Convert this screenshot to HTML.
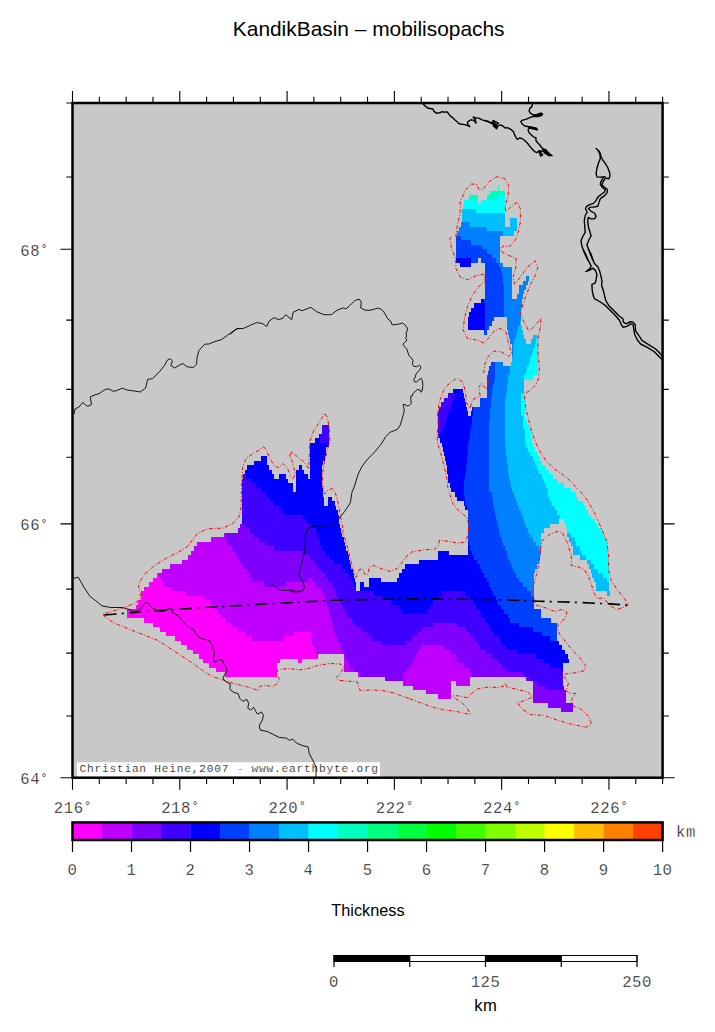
<!DOCTYPE html>
<html><head><meta charset="utf-8"><title>KandikBasin - mobilisopachs</title>
<style>
html,body{margin:0;padding:0;background:#fff}
svg{display:block}
.mono{font-family:"Liberation Mono",monospace;font-size:15.6px;letter-spacing:0.55px;fill:#000;stroke:#fff;stroke-width:0.34px;paint-order:fill stroke}
.sans{font-family:"Liberation Sans",sans-serif;fill:#000}
</style></head><body>
<svg width="715" height="1032" viewBox="0 0 715 1032">
<rect width="715" height="1032" fill="#fff"/>
<text class="sans" x="368.7" y="35.9" font-size="20.9" text-anchor="middle">KandikBasin – mobilisopachs</text>
<rect x="72.5" y="103.0" width="590.1" height="674.7" fill="#c8c8c8"/>
<g shape-rendering="crispEdges">
<path fill="#8000ff" d="M561.00 707.99H573.00V712.49H561.00ZM548.00 703.49H573.00V707.99H548.00ZM533.00 698.99H565.50V703.49H533.00ZM533.00 694.49H565.50V698.99H533.00ZM533.00 689.99H565.50V694.49H533.00ZM533.00 685.50H545.00V689.99H533.00ZM533.00 681.00H537.00V685.50H533.00ZM384.50 676.50H402.50V681.00H384.50ZM526.00 676.50H528.50V681.00H526.00ZM359.50 672.00H402.50V676.50H359.50ZM471.00 672.00H524.00V676.50H471.00ZM353.00 667.50H407.00V672.00H353.00ZM468.50 667.50H506.00V672.00H468.50ZM350.00 663.00H410.50V667.50H350.00ZM463.50 663.00H500.50V667.50H463.50ZM346.50 658.50H413.00V663.00H346.50ZM457.00 658.50H496.50V663.00H457.00ZM344.50 654.00H415.00V658.50H344.50ZM455.00 654.00H491.00V658.50H455.00ZM342.50 649.50H418.00V654.00H342.50ZM449.50 649.50H485.50V654.00H449.50ZM341.00 645.00H421.00V649.50H341.00ZM442.50 645.00H480.00V649.50H442.50ZM339.00 640.50H381.00V645.00H339.00ZM406.00 640.50H477.50V645.00H406.00ZM336.50 636.01H372.00V640.50H336.50ZM412.00 636.01H474.00V640.50H412.00ZM335.00 631.51H366.50V636.01H335.00ZM416.50 631.51H469.50V636.01H416.50ZM333.50 627.01H361.00V631.51H333.50ZM422.00 627.01H466.00V631.51H422.00ZM332.50 622.51H354.50V627.01H332.50ZM432.50 622.51H456.50V627.01H432.50ZM331.50 618.01H351.50V622.51H331.50ZM330.00 613.51H348.00V618.01H330.00ZM329.00 609.01H345.00V613.51H329.00ZM327.50 604.51H343.00V609.01H327.50ZM326.00 600.01H340.50V604.51H326.00ZM324.50 595.51H338.00V600.01H324.50ZM323.00 591.02H336.00V595.51H323.00ZM321.50 586.52H334.50V591.02H321.50ZM263.50 582.02H285.50V586.52H263.50ZM315.50 582.02H331.50V586.52H315.50ZM251.50 577.52H309.00V582.02H251.50ZM311.50 577.52H328.00V582.02H311.50ZM249.50 573.02H324.50V577.52H249.50ZM246.50 568.52H320.50V573.02H246.50ZM243.00 564.02H317.00V568.52H243.00ZM240.00 559.52H313.00V564.02H240.00ZM237.00 555.02H309.50V559.52H237.00ZM234.50 550.52H303.00V555.02H234.50ZM232.00 546.03H274.00V550.52H232.00ZM227.50 541.53H265.50V546.03H227.50ZM225.50 537.03H259.00V541.53H225.50ZM224.50 532.53H254.00V537.03H224.50ZM238.00 528.03H249.50V532.53H238.00ZM239.50 523.53H244.50V528.03H239.50Z"/>
<path fill="#bf00ff" d="M437.50 694.49H451.00V698.99H437.50ZM426.00 689.99H451.00V694.49H426.00ZM412.50 685.50H451.00V689.99H412.50ZM403.00 681.00H451.00V685.50H403.00ZM455.50 681.00H470.00V685.50H455.50ZM402.50 676.50H470.00V681.00H402.50ZM358.00 672.00H359.50V676.50H358.00ZM402.50 672.00H471.00V676.50H402.50ZM344.00 667.50H353.00V672.00H344.00ZM407.00 667.50H468.50V672.00H407.00ZM344.00 663.00H350.00V667.50H344.00ZM410.50 663.00H463.50V667.50H410.50ZM344.00 658.50H346.50V663.00H344.00ZM413.00 658.50H457.00V663.00H413.00ZM317.00 654.00H317.50V658.50H317.00ZM344.00 654.00H344.50V658.50H344.00ZM415.00 654.00H455.00V658.50H415.00ZM315.50 649.50H342.50V654.00H315.50ZM418.00 649.50H449.50V654.00H418.00ZM313.50 645.00H341.00V649.50H313.50ZM421.00 645.00H442.50V649.50H421.00ZM312.00 640.50H339.00V645.00H312.00ZM252.00 636.01H283.50V640.50H252.00ZM311.00 636.01H336.50V640.50H311.00ZM244.50 631.51H294.00V636.01H244.50ZM310.50 631.51H335.00V636.01H310.50ZM237.50 627.01H333.50V631.51H237.50ZM231.00 622.51H332.50V627.01H231.00ZM225.50 618.01H331.50V622.51H225.50ZM221.00 613.51H330.00V618.01H221.00ZM217.00 609.01H329.00V613.51H217.00ZM214.50 604.51H327.50V609.01H214.50ZM210.50 600.01H326.00V604.51H210.50ZM202.50 595.51H324.50V600.01H202.50ZM186.00 591.02H323.00V595.51H186.00ZM170.50 586.52H321.50V591.02H170.50ZM163.50 582.02H263.50V586.52H163.50ZM285.50 582.02H315.50V586.52H285.50ZM160.50 577.52H251.50V582.02H160.50ZM309.00 577.52H311.50V582.02H309.00ZM159.00 573.02H249.50V577.52H159.00ZM161.50 568.52H246.50V573.02H161.50ZM169.50 564.02H243.00V568.52H169.50ZM181.50 559.52H240.00V564.02H181.50ZM187.50 555.02H237.00V559.52H187.50ZM191.00 550.52H234.50V555.02H191.00ZM194.00 546.03H232.00V550.52H194.00ZM197.00 541.53H227.50V546.03H197.00ZM211.00 537.03H225.50V541.53H211.00ZM224.00 532.53H224.50V537.03H224.00Z"/>
<path fill="#4000ff" d="M545.00 685.50H563.50V689.99H545.00ZM537.00 681.00H562.50V685.50H537.00ZM528.50 676.50H562.50V681.00H528.50ZM524.00 672.00H562.50V676.50H524.00ZM506.00 667.50H560.50V672.00H506.00ZM500.50 663.00H550.00V667.50H500.50ZM496.50 658.50H543.00V663.00H496.50ZM491.00 654.00H535.50V658.50H491.00ZM485.50 649.50H517.00V654.00H485.50ZM480.00 645.00H505.50V649.50H480.00ZM381.00 640.50H406.00V645.00H381.00ZM477.50 640.50H501.00V645.00H477.50ZM372.00 636.01H412.00V640.50H372.00ZM474.00 636.01H498.50V640.50H474.00ZM366.50 631.51H416.50V636.01H366.50ZM469.50 631.51H493.50V636.01H469.50ZM361.00 627.01H422.00V631.51H361.00ZM466.00 627.01H490.50V631.51H466.00ZM354.50 622.51H432.50V627.01H354.50ZM456.50 622.51H488.50V627.01H456.50ZM351.50 618.01H485.00V622.51H351.50ZM348.00 613.51H481.00V618.01H348.00ZM345.00 609.01H401.50V613.51H345.00ZM428.00 609.01H480.00V613.51H428.00ZM343.00 604.51H398.50V609.01H343.00ZM430.00 604.51H476.00V609.01H430.00ZM340.50 600.01H390.50V604.51H340.50ZM432.50 600.01H472.50V604.51H432.50ZM338.00 595.51H382.50V600.01H338.00ZM439.00 595.51H468.50V600.01H439.00ZM336.00 591.02H374.00V595.51H336.00ZM442.00 591.02H464.50V595.51H442.00ZM334.50 586.52H356.00V591.02H334.50ZM331.50 582.02H353.50V586.52H331.50ZM328.00 577.52H351.50V582.02H328.00ZM324.50 573.02H348.50V577.52H324.50ZM320.50 568.52H345.00V573.02H320.50ZM317.00 564.02H341.00V568.52H317.00ZM313.00 559.52H334.00V564.02H313.00ZM309.50 555.02H328.50V559.52H309.50ZM303.00 550.52H325.00V555.02H303.00ZM274.00 546.03H322.00V550.52H274.00ZM265.50 541.53H320.00V546.03H265.50ZM259.00 537.03H318.50V541.53H259.00ZM254.00 532.53H316.50V537.03H254.00ZM249.50 528.03H315.50V532.53H249.50ZM244.50 523.53H311.00V528.03H244.50ZM241.50 519.03H307.00V523.53H241.50ZM241.50 514.53H302.50V519.03H241.50ZM241.50 510.03H283.00V514.53H241.50ZM241.50 505.53H278.50V510.03H241.50ZM241.50 501.04H274.00V505.53H241.50ZM241.50 496.54H269.50V501.04H241.50ZM241.50 492.04H265.00V496.54H241.50ZM241.50 487.54H260.50V492.04H241.50ZM241.50 483.04H256.00V487.54H241.50ZM241.50 478.54H251.50V483.04H241.50ZM242.50 474.04H245.50V478.54H242.50ZM319.50 438.05H329.00V442.55H319.50ZM319.50 433.55H329.00V438.05H319.50ZM438.00 433.55H439.00V438.05H438.00ZM321.50 429.05H329.00V433.55H321.50ZM438.00 429.05H441.00V433.55H438.00ZM321.50 424.55H329.00V429.05H321.50ZM438.00 424.55H443.00V429.05H438.00ZM438.00 420.05H444.50V424.55H438.00ZM438.00 415.55H446.50V420.05H438.00ZM438.00 411.06H448.00V415.55H438.00ZM439.00 406.56H450.00V411.06H439.00ZM441.00 402.06H451.50V406.56H441.00ZM443.50 397.56H453.00V402.06H443.50ZM447.50 393.06H454.50V397.56H447.50Z"/>
<path fill="#ff00ff" d="M224.50 672.00H276.50V676.50H224.50ZM216.00 667.50H276.50V672.00H216.00ZM208.50 663.00H276.50V667.50H208.50ZM202.50 658.50H279.50V663.00H202.50ZM298.00 658.50H301.50V663.00H298.00ZM198.50 654.00H317.00V658.50H198.50ZM192.50 649.50H315.50V654.00H192.50ZM186.50 645.00H313.50V649.50H186.50ZM180.50 640.50H312.00V645.00H180.50ZM174.50 636.01H252.00V640.50H174.50ZM283.50 636.01H311.00V640.50H283.50ZM166.00 631.51H244.50V636.01H166.00ZM294.00 631.51H310.50V636.01H294.00ZM160.00 627.01H237.50V631.51H160.00ZM152.50 622.51H231.00V627.01H152.50ZM143.50 618.01H225.50V622.51H143.50ZM126.50 613.51H221.00V618.01H126.50ZM126.50 609.01H217.00V613.51H126.50ZM136.00 604.51H214.50V609.01H136.00ZM138.00 600.01H210.50V604.51H138.00ZM140.50 595.51H202.50V600.01H140.50ZM140.50 591.02H186.00V595.51H140.50ZM143.50 586.52H170.50V591.02H143.50ZM148.50 582.02H163.50V586.52H148.50ZM153.00 577.52H160.50V582.02H153.00ZM157.00 573.02H159.00V577.52H157.00Z"/>
<path fill="#0000ff" d="M560.50 667.50H562.50V672.00H560.50ZM550.00 663.00H562.50V667.50H550.00ZM543.00 658.50H568.50V663.00H543.00ZM535.50 654.00H567.50V658.50H535.50ZM517.00 649.50H564.50V654.00H517.00ZM505.50 645.00H561.50V649.50H505.50ZM501.00 640.50H558.50V645.00H501.00ZM498.50 636.01H549.50V640.50H498.50ZM493.50 631.51H541.50V636.01H493.50ZM490.50 627.01H532.50V631.51H490.50ZM488.50 622.51H519.00V627.01H488.50ZM485.00 618.01H510.00V622.51H485.00ZM481.00 613.51H507.50V618.01H481.00ZM401.50 609.01H428.00V613.51H401.50ZM480.00 609.01H503.50V613.51H480.00ZM398.50 604.51H430.00V609.01H398.50ZM476.00 604.51H501.00V609.01H476.00ZM390.50 600.01H432.50V604.51H390.50ZM472.50 600.01H498.00V604.51H472.50ZM382.50 595.51H439.00V600.01H382.50ZM468.50 595.51H495.50V600.01H468.50ZM374.00 591.02H442.00V595.51H374.00ZM464.50 591.02H493.00V595.51H464.50ZM360.00 586.52H490.50V591.02H360.00ZM353.50 582.02H356.00V586.52H353.50ZM360.00 582.02H363.50V586.52H360.00ZM369.00 582.02H488.50V586.52H369.00ZM351.50 577.52H355.00V582.02H351.50ZM369.00 577.52H381.00V582.02H369.00ZM397.00 577.52H486.50V582.02H397.00ZM348.50 573.02H354.00V577.52H348.50ZM399.00 573.02H484.00V577.52H399.00ZM345.00 568.52H352.50V573.02H345.00ZM402.00 568.52H482.00V573.02H402.00ZM341.00 564.02H351.00V568.52H341.00ZM405.00 564.02H479.50V568.52H405.00ZM334.00 559.52H350.00V564.02H334.00ZM419.00 559.52H476.50V564.02H419.00ZM328.50 555.02H349.00V559.52H328.50ZM438.00 555.02H473.50V559.52H438.00ZM325.00 550.52H348.00V555.02H325.00ZM438.00 550.52H448.50V555.02H438.00ZM467.50 550.52H471.50V555.02H467.50ZM322.00 546.03H346.00V550.52H322.00ZM467.50 546.03H469.50V550.52H467.50ZM320.00 541.53H344.50V546.03H320.00ZM467.50 541.53H468.50V546.03H467.50ZM318.50 537.03H343.50V541.53H318.50ZM316.50 532.53H342.00V537.03H316.50ZM315.50 528.03H341.00V532.53H315.50ZM311.00 523.53H339.50V528.03H311.00ZM307.00 519.03H338.50V523.53H307.00ZM302.50 514.53H338.50V519.03H302.50ZM283.00 510.03H338.00V514.53H283.00ZM278.50 505.53H335.50V510.03H278.50ZM464.50 505.53H466.50V510.03H464.50ZM274.00 501.04H323.50V505.53H274.00ZM328.00 501.04H335.00V505.53H328.00ZM463.50 501.04H464.50V505.53H463.50ZM269.50 496.54H323.50V501.04H269.50ZM328.00 496.54H331.50V501.04H328.00ZM456.50 496.54H464.50V501.04H456.50ZM265.00 492.04H323.00V496.54H265.00ZM455.00 492.04H464.00V496.54H455.00ZM260.50 487.54H293.00V492.04H260.50ZM296.00 487.54H322.50V492.04H296.00ZM451.00 487.54H464.00V492.04H451.00ZM256.00 483.04H292.50V487.54H256.00ZM296.00 483.04H321.50V487.54H296.00ZM449.50 483.04H464.00V487.54H449.50ZM251.50 478.54H288.00V483.04H251.50ZM296.00 478.54H321.50V483.04H296.00ZM448.00 478.54H464.00V483.04H448.00ZM245.50 474.04H274.00V478.54H245.50ZM279.00 474.04H286.00V478.54H279.00ZM296.00 474.04H307.50V478.54H296.00ZM309.50 474.04H321.50V478.54H309.50ZM447.50 474.04H464.50V478.54H447.50ZM244.50 469.54H272.00V474.04H244.50ZM296.00 469.54H304.00V474.04H296.00ZM309.50 469.54H321.50V474.04H309.50ZM447.00 469.54H465.50V474.04H447.00ZM246.50 465.04H269.00V469.54H246.50ZM298.50 465.04H302.00V469.54H298.50ZM309.50 465.04H322.00V469.54H309.50ZM446.50 465.04H466.00V469.54H446.50ZM253.50 460.54H267.00V465.04H253.50ZM309.50 460.54H323.00V465.04H309.50ZM446.00 460.54H466.50V465.04H446.00ZM260.50 456.05H267.00V460.54H260.50ZM309.50 456.05H324.50V460.54H309.50ZM445.00 456.05H467.00V460.54H445.00ZM309.50 451.55H325.50V456.05H309.50ZM443.50 451.55H467.50V456.05H443.50ZM309.50 447.05H326.00V451.55H309.50ZM442.50 447.05H468.00V451.55H442.50ZM309.50 442.55H329.00V447.05H309.50ZM441.50 442.55H468.00V447.05H441.50ZM314.50 438.05H319.50V442.55H314.50ZM439.50 438.05H469.00V442.55H439.50ZM318.50 433.55H319.50V438.05H318.50ZM439.00 433.55H469.50V438.05H439.00ZM441.00 429.05H470.00V433.55H441.00ZM443.00 424.55H471.00V429.05H443.00ZM444.50 420.05H471.50V424.55H444.50ZM446.50 415.55H472.00V420.05H446.50ZM448.00 411.06H468.00V415.55H448.00ZM471.00 411.06H472.50V415.55H471.00ZM450.00 406.56H467.00V411.06H450.00ZM472.00 406.56H473.00V411.06H472.00ZM451.50 402.06H466.00V406.56H451.50ZM453.00 397.56H465.00V402.06H453.00ZM454.50 393.06H464.00V397.56H454.50ZM453.00 388.56H463.00V393.06H453.00ZM467.50 325.57H485.00V330.07H467.50ZM467.50 321.08H485.00V325.57H467.50ZM467.50 316.58H485.00V321.08H467.50ZM469.00 312.08H485.00V316.58H469.00ZM471.00 307.58H485.00V312.08H471.00ZM473.50 303.08H485.00V307.58H473.50ZM480.50 298.58H483.50V303.08H480.50ZM460.00 262.59H470.50V267.09H460.00ZM455.50 258.09H470.50V262.59H455.50Z"/>
<path fill="#0040ff" d="M549.50 636.01H557.00V640.50H549.50ZM541.50 631.51H557.00V636.01H541.50ZM532.50 627.01H557.00V631.51H532.50ZM519.00 622.51H557.00V627.01H519.00ZM510.00 618.01H551.00V622.51H510.00ZM507.50 613.51H541.00V618.01H507.50ZM503.50 609.01H541.00V613.51H503.50ZM501.00 604.51H533.50V609.01H501.00ZM498.00 600.01H533.50V604.51H498.00ZM495.50 595.51H533.50V600.01H495.50ZM493.00 591.02H530.50V595.51H493.00ZM490.50 586.52H526.50V591.02H490.50ZM488.50 582.02H522.50V586.52H488.50ZM486.50 577.52H519.00V582.02H486.50ZM484.00 573.02H516.00V577.52H484.00ZM482.00 568.52H513.50V573.02H482.00ZM479.50 564.02H511.50V568.52H479.50ZM476.50 559.52H510.00V564.02H476.50ZM473.50 555.02H508.00V559.52H473.50ZM471.50 550.52H506.50V555.02H471.50ZM469.50 546.03H504.50V550.52H469.50ZM468.50 541.53H503.00V546.03H468.50ZM467.50 537.03H501.50V541.53H467.50ZM467.50 532.53H500.00V537.03H467.50ZM467.50 528.03H499.00V532.53H467.50ZM467.50 523.53H498.00V528.03H467.50ZM467.50 519.03H496.50V523.53H467.50ZM467.50 514.53H495.50V519.03H467.50ZM467.50 510.03H494.50V514.53H467.50ZM466.50 505.53H494.00V510.03H466.50ZM464.50 501.04H493.00V505.53H464.50ZM464.50 496.54H492.50V501.04H464.50ZM464.00 492.04H491.50V496.54H464.00ZM464.00 487.54H489.00V492.04H464.00ZM464.00 483.04H489.00V487.54H464.00ZM464.00 478.54H489.00V483.04H464.00ZM464.50 474.04H489.00V478.54H464.50ZM465.50 469.54H489.00V474.04H465.50ZM466.00 465.04H489.00V469.54H466.00ZM466.50 460.54H489.00V465.04H466.50ZM467.00 456.05H489.00V460.54H467.00ZM467.50 451.55H489.00V456.05H467.50ZM468.00 447.05H489.00V451.55H468.00ZM468.00 442.55H489.00V447.05H468.00ZM469.00 438.05H489.00V442.55H469.00ZM469.50 433.55H489.00V438.05H469.50ZM470.00 429.05H489.00V433.55H470.00ZM471.00 424.55H489.00V429.05H471.00ZM471.50 420.05H489.00V424.55H471.50ZM472.00 415.55H489.50V420.05H472.00ZM472.50 411.06H489.50V415.55H472.50ZM473.00 406.56H490.00V411.06H473.00ZM480.00 402.06H490.50V406.56H480.00ZM480.00 397.56H491.00V402.06H480.00ZM486.50 393.06H491.50V397.56H486.50ZM486.50 388.56H492.00V393.06H486.50ZM486.50 384.06H493.00V388.56H486.50ZM486.50 379.56H494.00V384.06H486.50ZM486.50 375.06H495.00V379.56H486.50ZM487.50 370.56H495.00V375.06H487.50ZM489.00 366.07H495.00V370.56H489.00ZM491.00 361.57H495.00V366.07H491.00ZM483.50 330.07H486.50V334.57H483.50ZM485.00 325.57H488.50V330.07H485.00ZM485.00 321.08H492.00V325.57H485.00ZM485.00 316.58H493.50V321.08H485.00ZM485.00 312.08H504.00V316.58H485.00ZM485.00 307.58H504.00V312.08H485.00ZM485.00 303.08H504.00V307.58H485.00ZM483.50 298.58H504.00V303.08H483.50ZM484.50 294.08H504.00V298.58H484.50ZM485.00 289.58H504.00V294.08H485.00ZM485.00 285.08H504.00V289.58H485.00ZM485.00 280.58H503.00V285.08H485.00ZM485.00 276.09H502.50V280.58H485.00ZM485.00 271.59H501.50V276.09H485.00ZM485.00 267.09H501.00V271.59H485.00ZM485.00 262.59H499.00V267.09H485.00ZM470.50 258.09H478.00V262.59H470.50ZM480.50 258.09H496.00V262.59H480.50ZM455.50 253.59H492.00V258.09H455.50ZM455.50 249.09H486.50V253.59H455.50ZM455.50 244.59H482.00V249.09H455.50ZM455.50 240.09H471.00V244.59H455.50ZM455.50 235.59H460.50V240.09H455.50Z"/>
<path fill="#0080ff" d="M530.50 591.02H533.50V595.51H530.50ZM526.50 586.52H533.50V591.02H526.50ZM522.50 582.02H533.50V586.52H522.50ZM519.00 577.52H533.50V582.02H519.00ZM516.00 573.02H533.50V577.52H516.00ZM513.50 568.52H534.50V573.02H513.50ZM511.50 564.02H536.50V568.52H511.50ZM510.00 559.52H538.50V564.02H510.00ZM508.00 555.02H540.00V559.52H508.00ZM506.50 550.52H540.50V555.02H506.50ZM504.50 546.03H539.00V550.52H504.50ZM503.00 541.53H535.50V546.03H503.00ZM501.50 537.03H532.50V541.53H501.50ZM500.00 532.53H530.00V537.03H500.00ZM499.00 528.03H528.00V532.53H499.00ZM498.00 523.53H525.50V528.03H498.00ZM496.50 519.03H524.00V523.53H496.50ZM495.50 514.53H522.50V519.03H495.50ZM494.50 510.03H520.50V514.53H494.50ZM494.00 505.53H519.00V510.03H494.00ZM493.00 501.04H517.00V505.53H493.00ZM492.50 496.54H515.50V501.04H492.50ZM491.50 492.04H514.00V496.54H491.50ZM489.00 487.54H511.50V492.04H489.00ZM489.00 483.04H510.50V487.54H489.00ZM489.00 478.54H509.50V483.04H489.00ZM489.00 474.04H508.50V478.54H489.00ZM489.00 469.54H508.00V474.04H489.00ZM489.00 465.04H507.50V469.54H489.00ZM489.00 460.54H507.00V465.04H489.00ZM489.00 456.05H506.50V460.54H489.00ZM489.00 451.55H506.00V456.05H489.00ZM489.00 447.05H505.50V451.55H489.00ZM489.00 442.55H505.00V447.05H489.00ZM489.00 438.05H505.00V442.55H489.00ZM489.00 433.55H505.00V438.05H489.00ZM489.00 429.05H505.00V433.55H489.00ZM489.00 424.55H505.00V429.05H489.00ZM489.00 420.05H505.00V424.55H489.00ZM489.50 415.55H505.00V420.05H489.50ZM489.50 411.06H505.00V415.55H489.50ZM490.00 406.56H505.00V411.06H490.00ZM490.50 402.06H505.00V406.56H490.50ZM491.00 397.56H505.00V402.06H491.00ZM491.50 393.06H506.00V397.56H491.50ZM492.00 388.56H506.50V393.06H492.00ZM493.00 384.06H507.00V388.56H493.00ZM494.00 379.56H507.50V384.06H494.00ZM495.00 375.06H508.00V379.56H495.00ZM495.00 370.56H510.00V375.06H495.00ZM495.00 366.07H510.00V370.56H495.00ZM495.00 361.57H503.00V366.07H495.00ZM512.00 352.57H512.50V357.07H512.00ZM512.00 348.07H512.50V352.57H512.00ZM511.50 343.57H513.00V348.07H511.50ZM510.00 339.07H514.00V343.57H510.00ZM508.50 334.57H515.50V339.07H508.50ZM507.50 330.07H516.50V334.57H507.50ZM507.00 325.57H518.00V330.07H507.00ZM507.00 321.08H519.50V325.57H507.00ZM507.00 316.58H520.50V321.08H507.00ZM504.00 312.08H520.50V316.58H504.00ZM504.00 307.58H520.50V312.08H504.00ZM504.00 303.08H521.50V307.58H504.00ZM504.00 298.58H522.00V303.08H504.00ZM504.00 294.08H511.50V298.58H504.00ZM517.00 294.08H523.00V298.58H517.00ZM504.00 289.58H511.50V294.08H504.00ZM519.00 289.58H524.00V294.08H519.00ZM504.00 285.08H511.50V289.58H504.00ZM519.00 285.08H526.00V289.58H519.00ZM503.00 280.58H511.50V285.08H503.00ZM523.00 280.58H527.50V285.08H523.00ZM502.50 276.09H511.50V280.58H502.50ZM525.50 276.09H528.50V280.58H525.50ZM501.50 271.59H511.50V276.09H501.50ZM501.00 267.09H511.50V271.59H501.00ZM499.00 262.59H503.00V267.09H499.00ZM496.00 258.09H500.00V262.59H496.00ZM492.00 253.59H500.00V258.09H492.00ZM486.50 249.09H500.00V253.59H486.50ZM482.00 244.59H500.00V249.09H482.00ZM471.00 240.09H500.00V244.59H471.00ZM460.50 235.59H500.00V240.09H460.50ZM456.50 231.10H502.50V235.59H456.50ZM458.50 226.60H486.50V231.10H458.50ZM460.50 222.10H470.00V226.60H460.50Z"/>
<path fill="#00bfff" d="M607.00 591.02H610.00V595.51H607.00ZM595.50 586.52H608.50V591.02H595.50ZM595.50 582.02H608.50V586.52H595.50ZM593.50 577.52H607.00V582.02H593.50ZM591.50 573.02H602.50V577.52H591.50ZM591.00 568.52H597.50V573.02H591.00ZM588.50 564.02H593.50V568.52H588.50ZM587.00 559.52H591.00V564.02H587.00ZM579.50 555.02H586.00V559.52H579.50ZM572.50 550.52H582.00V555.02H572.50ZM539.00 546.03H541.00V550.52H539.00ZM572.50 546.03H579.50V550.52H572.50ZM535.50 541.53H541.00V546.03H535.50ZM571.00 541.53H576.00V546.03H571.00ZM532.50 537.03H541.00V541.53H532.50ZM569.00 537.03H574.50V541.53H569.00ZM530.00 532.53H541.00V537.03H530.00ZM567.00 532.53H570.50V537.03H567.00ZM528.00 528.03H543.50V532.53H528.00ZM525.50 523.53H550.00V528.03H525.50ZM524.00 519.03H558.50V523.53H524.00ZM522.50 514.53H559.50V519.03H522.50ZM520.50 510.03H557.00V514.53H520.50ZM519.00 505.53H554.50V510.03H519.00ZM517.00 501.04H552.00V505.53H517.00ZM515.50 496.54H550.00V501.04H515.50ZM514.00 492.04H548.00V496.54H514.00ZM511.50 487.54H547.50V492.04H511.50ZM510.50 483.04H545.50V487.54H510.50ZM509.50 478.54H543.50V483.04H509.50ZM508.50 474.04H541.50V478.54H508.50ZM508.00 469.54H538.50V474.04H508.00ZM507.50 465.04H536.50V469.54H507.50ZM507.00 460.54H534.50V465.04H507.00ZM506.50 456.05H532.50V460.54H506.50ZM506.00 451.55H529.50V456.05H506.00ZM505.50 447.05H527.50V451.55H505.50ZM505.00 442.55H526.00V447.05H505.00ZM505.00 438.05H525.00V442.55H505.00ZM505.00 433.55H524.50V438.05H505.00ZM505.00 429.05H524.50V433.55H505.00ZM505.00 424.55H522.50V429.05H505.00ZM505.00 420.05H522.50V424.55H505.00ZM505.00 415.55H522.50V420.05H505.00ZM505.00 411.06H521.00V415.55H505.00ZM505.00 406.56H521.00V411.06H505.00ZM505.00 402.06H521.00V406.56H505.00ZM505.00 397.56H521.00V402.06H505.00ZM506.00 393.06H521.00V397.56H506.00ZM506.50 388.56H524.00V393.06H506.50ZM507.00 384.06H524.00V388.56H507.00ZM507.50 379.56H524.00V384.06H507.50ZM508.00 375.06H524.00V379.56H508.00ZM510.00 370.56H526.00V375.06H510.00ZM510.00 366.07H527.00V370.56H510.00ZM510.50 361.57H528.50V366.07H510.50ZM511.50 357.07H530.00V361.57H511.50ZM512.50 352.57H531.50V357.07H512.50ZM512.50 348.07H533.00V352.57H512.50ZM513.00 343.57H534.50V348.07H513.00ZM514.00 339.07H525.50V343.57H514.00ZM531.00 339.07H536.00V343.57H531.00ZM515.50 334.57H524.00V339.07H515.50ZM533.00 334.57H537.00V339.07H533.00ZM516.50 330.07H522.50V334.57H516.50ZM518.00 325.57H522.00V330.07H518.00ZM519.50 321.08H521.00V325.57H519.50ZM502.50 231.10H514.00V235.59H502.50ZM486.50 226.60H516.50V231.10H486.50ZM470.00 222.10H505.00V226.60H470.00ZM510.00 222.10H517.00V226.60H510.00ZM461.50 217.60H505.00V222.10H461.50ZM510.00 217.60H517.00V222.10H510.00ZM461.50 213.10H505.00V217.60H461.50ZM461.50 208.60H476.00V213.10H461.50Z"/>
<path fill="#00ffff" d="M607.00 577.52H608.50V582.02H607.00ZM602.50 573.02H608.50V577.52H602.50ZM597.50 568.52H608.50V573.02H597.50ZM593.50 564.02H608.50V568.52H593.50ZM591.00 559.52H608.50V564.02H591.00ZM586.00 555.02H608.00V559.52H586.00ZM582.00 550.52H608.00V555.02H582.00ZM579.50 546.03H607.50V550.52H579.50ZM576.00 541.53H606.50V546.03H576.00ZM574.50 537.03H605.50V541.53H574.50ZM570.50 532.53H604.00V537.03H570.50ZM567.00 528.03H601.50V532.53H567.00ZM565.50 523.53H598.00V528.03H565.50ZM563.50 519.03H594.50V523.53H563.50ZM559.50 514.53H590.50V519.03H559.50ZM557.00 510.03H587.50V514.53H557.00ZM554.50 505.53H585.50V510.03H554.50ZM552.00 501.04H582.50V505.53H552.00ZM550.00 496.54H578.00V501.04H550.00ZM548.00 492.04H575.50V496.54H548.00ZM547.50 487.54H570.50V492.04H547.50ZM545.50 483.04H564.00V487.54H545.50ZM543.50 478.54H558.00V483.04H543.50ZM541.50 474.04H553.00V478.54H541.50ZM538.50 469.54H548.50V474.04H538.50ZM536.50 465.04H546.00V469.54H536.50ZM534.50 460.54H542.00V465.04H534.50ZM532.50 456.05H539.50V460.54H532.50ZM529.50 451.55H537.50V456.05H529.50ZM527.50 447.05H534.50V451.55H527.50ZM526.00 442.55H533.00V447.05H526.00ZM525.00 438.05H532.00V442.55H525.00ZM524.50 433.55H531.00V438.05H524.50ZM524.50 429.05H530.50V433.55H524.50ZM522.50 424.55H528.50V429.05H522.50ZM522.50 420.05H527.00V424.55H522.50ZM522.50 415.55H525.00V420.05H522.50ZM521.00 411.06H524.50V415.55H521.00ZM521.00 406.56H524.50V411.06H521.00ZM521.00 402.06H524.50V406.56H521.00ZM521.00 397.56H524.50V402.06H521.00ZM521.00 393.06H524.00V397.56H521.00ZM524.00 375.06H533.00V379.56H524.00ZM526.00 370.56H537.50V375.06H526.00ZM527.00 366.07H538.00V370.56H527.00ZM528.50 361.57H538.00V366.07H528.50ZM530.00 357.07H538.00V361.57H530.00ZM531.50 352.57H538.00V357.07H531.50ZM533.00 348.07H537.50V352.57H533.00ZM534.50 343.57H537.50V348.07H534.50ZM536.00 339.07H537.50V343.57H536.00ZM537.00 334.57H537.50V339.07H537.00ZM476.00 208.60H505.00V213.10H476.00ZM462.50 204.10H505.00V208.60H462.50ZM464.00 199.60H478.00V204.10H464.00ZM480.50 199.60H505.00V204.10H480.50ZM498.00 195.10H505.00V199.60H498.00Z"/>
<path fill="#00ffbf" d="M469.00 195.10H478.00V199.60H469.00ZM486.50 195.10H498.00V199.60H486.50ZM489.50 190.60H505.00V195.10H489.50ZM497.50 186.11H499.00V190.60H497.50Z"/>
</g>
<svg x="72.5" y="103.0" width="590.1" height="674.7" viewBox="72.5 103.0 590.1 674.7">
<rect x="77" y="762.3" width="303" height="14.5" fill="#fff"/>
<text class="mono" x="79.5" y="772" style="font-size:11.2px;letter-spacing:0.77px;stroke-width:0.22px;fill:#000">Christian Heine,2007 - www.earthbyte.org</text>
<defs><clipPath id="cH"><rect x="400" y="140" width="240" height="97.5"/></clipPath><clipPath id="cG"><rect x="400" y="236.5" width="240" height="138.5"/></clipPath><clipPath id="cI"><rect x="420" y="375" width="210" height="115"/></clipPath><clipPath id="cJ"><rect x="410" y="490" width="202" height="135"/></clipPath><clipPath id="cA"><rect x="290" y="400" width="130" height="130"/></clipPath><clipPath id="cK"><rect x="120" y="420" width="170" height="125"/></clipPath><clipPath id="cB"><rect x="90" y="545" width="200" height="80"/><rect x="90" y="625" width="110" height="45"/></clipPath><clipPath id="cC"><rect x="290" y="530" width="120" height="95"/></clipPath><clipPath id="cF"><rect x="200" y="625" width="210" height="145"/></clipPath><clipPath id="cE"><rect x="410" y="625" width="210" height="145"/></clipPath><clipPath id="cD"><rect x="410" y="490" width="270" height="135"/><rect x="612" y="520" width="68" height="150"/></clipPath></defs>
<g fill="none" stroke="#ff0000" stroke-width="1" stroke-dasharray="3.6 1.8 0.9 1.8">
<polyline clip-path="url(#cA)" points="230.0,523.3 235.9,517.5 240.3,513.1 241.7,502.8 242.3,488.1 242.3,470.5 244.7,461.7 253.5,454.3 264.7,446.4 268.2,454.3 272.6,463.1 275.5,468.1 281.4,462.3 285.8,469.0 290.2,476.4 293.1,479.3 295.2,473.4 293.1,464.6 290.2,455.8 291.7,451.4 296.1,455.8 300.5,458.7 304.9,463.1 308.7,469.0 309.3,455.8 309.9,441.1 313.7,430.8 319.6,422.0 324.6,413.2 327.5,417.6 329.3,429.4 329.9,441.1 326.9,451.4 324.6,461.7 322.5,473.4 322.5,485.2 324.6,494.0 328.4,489.6 332.8,488.7 335.7,494.0 338.1,502.8 340.1,514.5 343.1,529.2 346.0,539.5 348.1,550.1"/>
<polyline clip-path="url(#cB)" points="236.8,521.5 228.0,526.5 216.3,528.2 204.5,530.3 195.7,536.2 189.9,545.0 178.1,552.3 166.4,558.2 154.6,565.5 145.8,572.9 140.5,580.2 138.5,586.1 140.5,593.4 139.9,599.3 134.1,603.7 122.3,608.1 102.3,614.6 113.5,622.8 128.2,628.7 142.9,634.5 157.5,640.4 169.3,647.8 178.1,653.6 186.9,659.5 195.7,665.4 201.6,670.1 213.3,678.6"/>
<polyline clip-path="url(#cK)" points="150.8,570.1 164.1,559.5 178.7,553.6 187.5,546.3 197.8,533.1 208.1,528.7 222.8,528.1 233.1,523.4 238.9,516.9 241.0,508.1 241.3,493.4 241.9,478.7 242.8,467.0 246.3,458.2 255.1,452.3 263.9,447.0 266.8,450.8 269.8,458.2 274.2,465.5 278.6,467.6 283.0,463.5 287.4,468.5 291.8,477.3 295.6,481.7 295.6,471.4 291.8,462.6 289.8,455.2 291.8,451.7 296.2,456.7 302.1,458.2 306.5,462.6 309.4,468.5 310.3,455.2 310.9,443.5 312.4,436.2 316.8,428.8 322.6,421.5 325.6,420.0"/>
<polyline clip-path="url(#cC)" points="340.5,521.5 342.9,531.7 347.3,546.4 350.2,558.2 353.1,569.9 356.1,577.3 359.0,569.9 362.0,568.5 364.9,574.3 367.8,574.3 369.3,567.0 373.7,565.5 381.0,568.5 389.9,571.4 397.2,568.5 403.1,561.1 407.5,555.2 413.3,551.7 425.1,548.8 435.4,549.4 438.3,543.5 441.2,540.0 448.6,541.1 457.4,544.1 464.7,542.9 467.7,537.6 468.6,528.8 467.7,520.0"/>
<polyline clip-path="url(#cD)" points="540.5,549.4 542.0,540.6 549.3,534.7 558.1,531.2 562.5,533.2 566.9,542.0 571.3,555.2 571.3,565.5 578.7,567.0 584.5,569.9 588.9,577.3 591.9,586.1 594.8,594.9 597.8,598.7 603.6,597.8 609.5,605.2 616.8,609.6 625.7,606.6 628.6,604.6 622.7,596.4 616.8,589.0 611.0,580.2 608.6,569.9 608.6,555.2 606.6,540.6 602.2,530.3 597.8,520.0"/>
<polyline clip-path="url(#cD)" points="540.5,549.4 539.0,564.1 536.1,575.8 533.1,586.1 533.1,596.4 536.1,605.2 546.4,608.1 555.2,611.6 561.0,609.6 566.9,611.6 565.4,618.4 558.1,624.3 556.6,633.1 559.6,640.4 566.9,649.2 574.3,658.0 581.6,665.4 586.0,670.1"/>
<polyline clip-path="url(#cE)" points="410.0,698.7 418.8,702.2 430.6,706.6 442.3,709.6 457.0,711.6 467.3,714.0 470.2,714.0 467.3,708.1 461.4,702.2 452.6,696.9 449.6,695.8 458.5,695.8 467.3,697.8 471.7,693.4 477.5,689.0 487.8,687.0 498.1,687.5 504.0,686.1 505.4,683.1 506.9,687.0 515.7,689.0 527.5,692.0 532.8,696.9 526.0,699.9 517.2,703.1 523.1,709.6 530.4,714.6 543.6,715.4 556.8,719.9 571.5,724.3 586.2,727.2 591.5,724.3 589.1,716.9 581.8,709.6 573.0,705.8 571.5,699.3 575.9,693.4 570.1,693.4 565.7,690.5 568.6,683.1 562.7,674.3 574.5,672.9 584.7,670.5 585.6,665.5 580.3,658.2 573.0,650.8 565.7,642.0 559.8,634.7 556.8,627.3 562.7,620.0 565.7,615.6"/>
<polyline clip-path="url(#cF)" points="194.1,664.1 200.0,668.5 205.9,672.9 214.7,677.3 223.5,680.2 232.3,683.1 244.1,686.1 254.3,689.0 257.3,690.5 260.2,686.1 266.1,685.2 272.0,687.0 277.8,683.1 279.3,678.7 276.4,674.3 277.8,669.9 288.1,668.5 299.9,669.9 308.7,668.5 317.5,665.5 329.2,663.5 341.0,664.1 343.9,667.0 341.0,672.9 336.6,677.3 338.0,680.2 346.8,681.1 357.1,681.7 358.6,686.1 360.1,690.5 370.3,689.9 382.1,690.5 393.8,692.8 402.6,696.4 410.0,698.7"/>
<polyline clip-path="url(#cG)" points="455.8,230.0 449.9,238.8 451.4,247.6 455.8,259.4 455.8,268.2 460.2,277.0 467.5,279.9 476.4,275.5 483.7,274.1 485.2,281.4 477.8,287.3 472.0,296.1 467.5,306.4 464.6,318.1 463.1,329.9 467.5,338.7 477.8,340.1 483.7,343.1 488.1,338.7 494.0,331.3 499.9,328.4 505.7,331.3 508.1,341.6 511.6,353.3 508.7,356.3 501.3,351.9 494.0,351.0 488.1,356.3 485.2,363.6 483.7,372.4 485.2,380.1"/>
<polyline clip-path="url(#cG)" points="516.0,230.0 516.0,238.8 510.1,246.2 502.8,246.2 499.9,250.6 507.2,255.0 516.0,257.9 516.0,266.7 513.1,277.0 514.5,284.3 520.4,277.0 527.8,266.7 535.1,260.8 538.0,266.7 535.1,275.5 530.7,284.3 526.3,294.6 523.3,303.4 520.4,313.7 524.8,324.0 529.2,331.3 535.1,325.4 541.0,318.1 540.4,326.9 538.0,338.7 538.0,353.3 539.5,368.0 538.0,380.1"/>
<polyline clip-path="url(#cH)" points="455.8,236.9 457.3,225.2 460.2,213.4 460.2,201.7 464.6,191.4 470.5,184.1 476.4,184.1 479.3,189.9 483.7,188.5 489.6,181.1 496.9,176.7 504.3,178.2 508.7,185.5 508.1,195.8 505.1,206.1 505.7,212.0 513.1,204.6 517.5,202.3 520.4,209.0 520.4,222.2 516.9,236.9"/>
<polyline clip-path="url(#cI)" points="468.5,520.1 464.1,515.4 456.7,512.4 450.8,499.2 447.9,487.5 446.4,475.7 443.5,464.0 440.6,452.2 437.6,443.4 437.0,434.6 438.2,425.8 437.6,414.1 439.1,402.3 443.5,390.6 449.4,383.2 456.7,378.2 462.6,381.7 465.5,392.0 467.0,403.8 469.9,408.2 472.9,399.4 475.8,397.9 480.2,395.8 478.7,387.6 481.7,383.2 486.1,389.1 489.0,381.7 487.0,372.9 485.2,370.0"/>
<polyline clip-path="url(#cI)" points="538.9,370.0 538.9,377.3 536.0,384.7 530.1,390.6 524.3,393.5 525.7,408.2 528.7,419.9 531.6,431.7 536.0,443.4 540.4,452.2 546.3,461.0 553.6,468.4 562.4,474.3 571.2,481.6 578.6,490.4 585.9,500.7 591.8,511.0 596.2,518.3 597.7,520.1"/>
<polyline clip-path="url(#cJ)" points="400.0,565.2 404.4,557.8 411.7,552.0 423.5,549.9 435.2,549.0 438.2,546.1 439.6,540.2 447.0,541.1 458.7,543.1 466.1,541.7 468.1,532.9 469.0,524.1 466.1,516.7 458.7,510.8 452.9,503.5 449.9,494.7 447.6,482.9 447.0,480.0"/>
<polyline clip-path="url(#cJ)" points="568.9,480.0 577.4,488.2 583.0,494.4 587.1,500.0 591.2,507.0 594.7,513.5 597.4,519.6"/>
</g>
<g fill="none" stroke="#000" stroke-width="0.9" stroke-linejoin="round">
<polyline points="73.8,414.6 75.1,408.8 78.9,407.1 82.7,402.5 85.2,404.6 87.7,406.3 91.5,404.6 90.2,397.0 94.0,395.2 99.0,393.7 101.5,392.0 105.3,389.4 109.1,388.9 112.9,391.2 116.6,390.7 122.2,388.2 126.7,389.9 135.5,391.2 140.1,392.0 145.6,388.2 147.6,379.4 152.6,378.6 159.4,371.8 164.5,365.5 167.0,360.5 170.0,358.7 172.5,361.0 170.8,365.5 174.6,368.0 179.6,365.0 182.9,363.5 187.1,366.8 193.4,367.5 196.5,364.3 197.2,356.7 199.0,350.4 204.8,344.1 208.5,344.1 216.1,341.1 221.1,339.8 227.4,335.3 236.2,329.0 240.0,328.3"/>
<polyline points="230.0,334.3 237.3,328.5 243.2,328.5 256.4,322.6 262.3,323.5 266.7,326.4 269.1,321.1 274.1,317.6 278.5,319.6 282.9,318.2 285.8,314.7 291.7,319.6 293.1,312.3 299.0,309.4 302.0,310.8 310.8,307.3 316.6,311.7 324.0,314.7 331.3,314.7 337.2,310.2 343.1,307.9 346.0,308.8 350.4,305.0 354.8,300.6 359.2,299.1 361.3,302.0 360.7,307.9 365.1,310.2 370.1,310.2"/>
<polyline points="370.0,310.3 374.1,309.2 378.1,308.0 381.0,309.2 384.0,312.1 386.3,316.2 388.0,319.1 390.9,321.4 392.1,324.9 395.0,324.7 399.1,324.0 402.6,323.1 404.9,324.9 407.2,327.8 407.4,330.1 406.0,333.0 406.6,335.9 405.5,338.3 407.0,340.0 404.9,342.3 403.1,344.1 404.3,346.4 406.6,348.7 407.8,352.2 409.0,355.7 411.3,358.0 413.0,360.3 412.4,363.8 413.6,366.2 416.5,366.7 419.4,365.3 420.9,366.7 420.0,369.7 417.7,372.0 415.9,374.3 415.3,377.2 413.6,379.8 414.8,381.9 416.5,381.9 419.4,379.5 421.2,378.4 422.3,380.7 422.9,385.3 422.3,390.0 421.2,392.3 420.0,390.0 417.7,389.4 415.3,391.2 413.0,393.5 412.4,395.8 410.7,396.4 410.9,399.9 411.3,403.4 409.5,405.3 407.2,406.0 404.9,404.5 403.1,404.5 403.7,407.4 404.3,410.0 403.3,414.7"/>
<polyline points="403.3,414.7 400.3,425.0 397.4,429.4 390.1,432.3 385.7,436.7 381.2,444.1 373.9,452.9 368.0,458.7 362.2,466.1 357.8,474.9 354.8,485.2 351.9,492.5 350.4,502.8 344.5,511.6 338.7,518.9 334.3,524.8"/>
<polyline points="334.1,525.3 325.2,525.9 313.5,525.9 307.6,528.8 305.3,534.7 305.3,546.4 303.2,558.2 300.3,568.5 298.8,574.3 301.7,580.2 304.7,586.1 303.2,590.5 297.3,592.0 290.0,591.4"/>
<polyline points="270.6,584.6 275.0,586.1 279.4,589.9 285.3,590.5 291.2,589.9 295.6,591.4 300.0,591.1"/>
<polyline points="71.8,578.7 78.3,577.3 84.1,587.5 90.0,596.4 95.9,600.8 101.7,605.8 110.6,607.5 122.3,607.5 129.6,609.6 134.1,611.6 139.9,609.6 142.9,605.2 145.8,602.2 148.7,603.7 152.3,608.1 159.0,611.0 163.4,611.0 170.8,608.1 172.2,612.5 178.1,615.4 182.5,621.3 188.4,627.2"/>
<polyline points="190.0,627.9 193.9,629.9 196.9,635.8 201.7,638.7 206.6,639.7 210.6,641.6 212.5,646.5 214.5,652.4 213.5,658.3 214.5,662.2 218.4,660.2 222.3,659.9 223.7,664.2 226.2,667.1 227.2,671.0 224.3,674.9 222.9,678.8 226.2,681.8 230.1,683.7 230.1,689.6 234.1,692.6 238.0,693.5 239.9,698.4 242.9,701.4 246.8,699.4 248.7,703.3 247.8,708.2 250.7,710.2 253.6,707.2 255.6,711.2 257.6,714.1 261.5,712.1 263.4,715.1 262.4,720.0 259.5,724.9 259.5,728.8 261.5,730.0"/>
<polyline points="260.2,730.1 267.5,731.6 273.4,734.5 279.3,737.5 286.6,738.1 289.6,740.4 292.5,738.9 296.9,743.3 302.8,745.7 308.1,746.9 309.3,753.6 313.1,761.0 316.0,766.8 316.0,778.6"/>
</g>
<g fill="none" stroke="#000" stroke-width="1.4" stroke-linejoin="round" stroke-linecap="round">
<polyline points="422.8,103.6 425.6,106.4 428.4,108.3 432.9,109.0 434.0,111.4 436.8,113.4 440.2,112.5 443.0,111.6 444.6,112.3 446.9,111.6 448.6,113.7 450.2,115.9 452.5,117.6 454.7,119.8 456.9,121.5 459.2,123.7 462.0,124.3 464.8,124.6 467.0,125.4 469.8,126.5 467.6,124.3 467.6,122.0 469.8,120.4 472.0,119.8 474.3,120.9 476.0,123.2 475.4,119.8 473.2,117.0 476.0,118.1 478.8,118.1 482.1,119.8 485.5,120.9 488.8,122.0 492.2,123.2 495.0,123.7"/>
<polyline points="485.0,120.4 488.4,121.5 491.7,123.7 493.4,120.4 495.6,122.0 498.4,123.2 496.2,124.8 494.5,126.5 496.7,128.8 497.9,126.0 500.1,124.8 502.9,126.0 505.1,128.0 507.4,127.6 510.7,129.3 513.5,131.6 514.6,134.9 515.8,137.1 517.4,139.4 519.7,138.0 522.5,138.8 524.7,140.5 527.5,143.3 529.7,146.1 532.0,148.9 534.2,151.1 536.5,152.8 538.7,151.1 539.8,153.9 540.9,156.2 542.6,155.0 540.9,152.8 539.3,150.6 542.0,151.1 544.3,151.7 546.0,149.5 544.3,152.8 546.5,153.9 548.8,155.6 551.0,155.6"/>
<polyline points="532.5,103.6 532.0,106.4 529.7,108.6 529.2,111.4 530.9,113.7 533.7,115.0 537.6,114.6 540.9,113.1 542.6,114.2 540.9,115.9 537.6,116.5 533.1,116.5 529.7,117.6 525.8,119.3 521.9,120.4 520.8,121.7 522.5,124.3 524.7,126.0 527.5,126.5 532.0,127.3 536.5,128.2 537.3,129.9 533.1,128.8 529.2,128.0 528.1,129.9 529.2,132.7 531.4,134.9 533.7,137.1 535.9,137.7 535.9,140.5 537.6,142.7 539.8,145.0 541.5,147.2 543.2,148.9 545.4,150.0 544.8,151.7 547.1,152.8 549.9,154.5 552.1,155.6"/>
<polyline points="596.1,148.4 598.3,150.9 599.9,154.3 600.3,158.5 598.3,163.5 596.9,168.5 596.1,173.6 596.9,176.9 601.1,177.3 604.5,176.6 606.2,178.3 608.7,178.9 610.0,176.1 609.5,171.9 607.8,167.7 605.3,163.5 602.8,160.1 601.1,156.8 600.3,153.4 598.9,150.9 596.1,148.4"/>
<polyline points="603.3,177.8 601.1,181.1 600.3,184.5 602.8,187.8 605.3,189.5 604.5,192.0 601.1,194.5 597.8,197.1 596.1,200.4 593.6,203.4 589.4,204.6 586.5,206.3 585.5,208.8 587.2,212.2 585.2,215.5 584.3,220.6 584.8,227.3 585.2,232.3 582.7,236.5 581.0,240.7 581.8,245.7 584.3,252.5 587.7,260.0"/>
<polyline points="605.0,178.9 602.8,182.0 602.0,185.0 604.5,187.3 607.5,189.5 607.0,192.9 604.0,196.2 600.3,198.7 598.9,202.9 597.8,206.3 593.6,207.1 590.2,207.1 588.5,208.8 591.1,211.3 594.4,213.0 596.1,216.4 594.4,218.9 591.1,218.9 588.2,217.5 587.7,221.4 588.5,227.3 591.1,235.7 588.5,240.7 586.9,244.9 589.4,251.6 592.7,260.0"/>
<polyline points="583.5,250.0 586.0,255.0 588.5,260.9 591.1,265.9 589.9,268.5 586.0,271.5 590.2,269.8 592.7,268.1 595.2,270.1 596.9,274.3 596.1,279.4 595.2,283.2 591.9,284.4 592.2,290.3 593.2,295.3 594.4,298.7 600.3,302.0 605.3,305.4 610.4,310.4 615.4,315.5 619.6,320.5 621.3,324.7 622.9,327.2 627.1,326.4 630.5,323.9 633.0,324.7 633.9,329.7 634.7,334.8 637.2,339.8 640.6,344.0 647.3,347.3 654.0,351.5 659.0,356.6 662.7,359.9"/>
<polyline points="588.9,250.0 591.1,254.2 592.7,259.2 594.4,263.4 597.8,266.8 599.9,271.8 601.1,276.9 602.0,281.1 601.6,285.2 603.3,290.3 604.5,295.3 605.7,300.4 608.7,305.4 613.7,310.4 618.7,315.5 622.9,318.8 623.4,322.2 626.3,323.9 629.7,321.8 633.0,322.2 635.2,324.7 635.5,330.6 638.9,335.6 642.2,340.6 649.0,344.8 655.7,349.0 660.7,354.1 662.7,356.6"/>
</g>
<g fill="#000" stroke="none"><polygon points="492.8,120.4 497.9,126.0 496.7,129.1 492.8,126.5 492.3,123.2"/>
<polygon points="533.7,115.0 540.9,112.5 542.6,114.2 540.4,116.1 534.2,116.5"/>
<polygon points="527.5,126.5 537.0,128.2 537.3,130.2 528.6,128.2"/>
<polygon points="541.5,148.3 546.0,149.2 552.1,155.3 547.6,155.6 543.2,151.7"/>
</g>
<g fill="none" stroke="#000" stroke-width="1.6" stroke-dasharray="12.4 5 2.2 5.6" stroke-dashoffset="-2.6">
<polyline points="101.7,615.2 142.0,611.8 200.0,607.8 260.0,604.3 335.0,600.3 407.0,598.7 450.0,599.0 500.0,599.8 540.0,601.2 580.0,602.5 610.0,603.9 627.8,605.2"/></g>
</svg>
<rect x="72.5" y="103.0" width="590.1" height="674.7" fill="none" stroke="#000" stroke-width="2.5"/>
<g stroke="#000" stroke-width="1.1" fill="none"><path d="M72.50 103.00V91.00M72.50 777.70V789.70"/><path d="M99.32 103.00V96.80M99.32 777.70V783.90"/><path d="M126.15 103.00V96.80M126.15 777.70V783.90"/><path d="M152.97 103.00V96.80M152.97 777.70V783.90"/><path d="M179.79 103.00V91.00M179.79 777.70V789.70"/><path d="M206.61 103.00V96.80M206.61 777.70V783.90"/><path d="M233.44 103.00V96.80M233.44 777.70V783.90"/><path d="M260.26 103.00V96.80M260.26 777.70V783.90"/><path d="M287.08 103.00V91.00M287.08 777.70V789.70"/><path d="M313.90 103.00V96.80M313.90 777.70V783.90"/><path d="M340.73 103.00V96.80M340.73 777.70V783.90"/><path d="M367.55 103.00V96.80M367.55 777.70V783.90"/><path d="M394.37 103.00V91.00M394.37 777.70V789.70"/><path d="M421.20 103.00V96.80M421.20 777.70V783.90"/><path d="M448.02 103.00V96.80M448.02 777.70V783.90"/><path d="M474.84 103.00V96.80M474.84 777.70V783.90"/><path d="M501.66 103.00V91.00M501.66 777.70V789.70"/><path d="M528.49 103.00V96.80M528.49 777.70V783.90"/><path d="M555.31 103.00V96.80M555.31 777.70V783.90"/><path d="M582.13 103.00V96.80M582.13 777.70V783.90"/><path d="M608.95 103.00V91.00M608.95 777.70V789.70"/><path d="M635.78 103.00V96.80M635.78 777.70V783.90"/><path d="M662.60 103.00V96.80M662.60 777.70V783.90"/><path d="M72.50 777.70H60.50M662.60 777.70H674.60"/><path d="M72.50 716.00H66.30M662.60 716.00H668.80"/><path d="M72.50 653.16H66.30M662.60 653.16H668.80"/><path d="M72.50 589.13H66.30M662.60 589.13H668.80"/><path d="M72.50 523.87H60.50M662.60 523.87H674.60"/><path d="M72.50 457.31H66.30M662.60 457.31H668.80"/><path d="M72.50 389.41H66.30M662.60 389.41H668.80"/><path d="M72.50 320.09H66.30M662.60 320.09H668.80"/><path d="M72.50 249.30H60.50M662.60 249.30H674.60"/><path d="M72.50 176.96H66.30M662.60 176.96H668.80"/><path d="M72.50 103.00H66.30M662.60 103.00H668.80"/></g>
<g class="mono"><text x="72.8" y="812.6" text-anchor="middle">216<tspan font-size="11.8" dy="-3.4" dx="0.5" stroke-width="0.1" fill="#000">°</tspan></text><text x="180.1" y="812.6" text-anchor="middle">218<tspan font-size="11.8" dy="-3.4" dx="0.5" stroke-width="0.1" fill="#000">°</tspan></text><text x="287.4" y="812.6" text-anchor="middle">220<tspan font-size="11.8" dy="-3.4" dx="0.5" stroke-width="0.1" fill="#000">°</tspan></text><text x="394.7" y="812.6" text-anchor="middle">222<tspan font-size="11.8" dy="-3.4" dx="0.5" stroke-width="0.1" fill="#000">°</tspan></text><text x="502.0" y="812.6" text-anchor="middle">224<tspan font-size="11.8" dy="-3.4" dx="0.5" stroke-width="0.1" fill="#000">°</tspan></text><text x="609.3" y="812.6" text-anchor="middle">226<tspan font-size="11.8" dy="-3.4" dx="0.5" stroke-width="0.1" fill="#000">°</tspan></text><text x="48.2" y="783.9" text-anchor="end">64<tspan font-size="11.8" dy="-3.4" dx="0.5" stroke-width="0.1" fill="#000">°</tspan></text><text x="48.2" y="530.1" text-anchor="end">66<tspan font-size="11.8" dy="-3.4" dx="0.5" stroke-width="0.1" fill="#000">°</tspan></text><text x="48.2" y="255.5" text-anchor="end">68<tspan font-size="11.8" dy="-3.4" dx="0.5" stroke-width="0.1" fill="#000">°</tspan></text></g>
<rect x="72.50" y="822.4" width="29.81" height="17.6" fill="#ff00ff"/><rect x="102.00" y="822.4" width="29.81" height="17.6" fill="#bf00ff"/><rect x="131.51" y="822.4" width="29.81" height="17.6" fill="#8000ff"/><rect x="161.02" y="822.4" width="29.81" height="17.6" fill="#4000ff"/><rect x="190.52" y="822.4" width="29.81" height="17.6" fill="#0000ff"/><rect x="220.03" y="822.4" width="29.81" height="17.6" fill="#0040ff"/><rect x="249.53" y="822.4" width="29.81" height="17.6" fill="#0080ff"/><rect x="279.04" y="822.4" width="29.81" height="17.6" fill="#00bfff"/><rect x="308.54" y="822.4" width="29.81" height="17.6" fill="#00ffff"/><rect x="338.05" y="822.4" width="29.81" height="17.6" fill="#00ffbf"/><rect x="367.55" y="822.4" width="29.81" height="17.6" fill="#00ff80"/><rect x="397.06" y="822.4" width="29.81" height="17.6" fill="#00ff40"/><rect x="426.56" y="822.4" width="29.81" height="17.6" fill="#00ff00"/><rect x="456.07" y="822.4" width="29.81" height="17.6" fill="#40ff00"/><rect x="485.57" y="822.4" width="29.81" height="17.6" fill="#80ff00"/><rect x="515.08" y="822.4" width="29.81" height="17.6" fill="#bfff00"/><rect x="544.58" y="822.4" width="29.81" height="17.6" fill="#ffff00"/><rect x="574.09" y="822.4" width="29.81" height="17.6" fill="#ffbf00"/><rect x="603.59" y="822.4" width="29.81" height="17.6" fill="#ff8000"/><rect x="633.10" y="822.4" width="29.81" height="17.6" fill="#ff4000"/>
<rect x="72.5" y="822.4" width="590.1" height="17.6" fill="none" stroke="#000" stroke-width="2.5"/>
<g stroke="#000" stroke-width="1.2" fill="none"><path d="M72.50 840V852"/><path d="M131.51 840V852"/><path d="M190.52 840V852"/><path d="M249.53 840V852"/><path d="M308.54 840V852"/><path d="M367.55 840V852"/><path d="M426.56 840V852"/><path d="M485.57 840V852"/><path d="M544.58 840V852"/><path d="M603.59 840V852"/><path d="M662.60 840V852"/></g>
<g class="mono"><text x="72.5" y="874.8" text-anchor="middle">0</text><text x="131.5" y="874.8" text-anchor="middle">1</text><text x="190.5" y="874.8" text-anchor="middle">2</text><text x="249.5" y="874.8" text-anchor="middle">3</text><text x="308.5" y="874.8" text-anchor="middle">4</text><text x="367.6" y="874.8" text-anchor="middle">5</text><text x="426.6" y="874.8" text-anchor="middle">6</text><text x="485.6" y="874.8" text-anchor="middle">7</text><text x="544.6" y="874.8" text-anchor="middle">8</text><text x="603.6" y="874.8" text-anchor="middle">9</text><text x="662.6" y="874.8" text-anchor="middle">10</text></g>
<text class="mono" x="676" y="836.5">km</text>
<text class="sans" x="368" y="915.7" font-size="16.3" text-anchor="middle">Thickness</text>
<g>
<rect x="334" y="955.5" width="303" height="6" fill="#fff" stroke="#000" stroke-width="1"/>
<rect x="334" y="955.5" width="75.75" height="6" fill="#000"/>
<rect x="485.5" y="955.5" width="75.75" height="6" fill="#000"/>
<path d="M334 955V967M409.75 955V967M485.5 955V967M561.25 955V967M637 955V967" stroke="#000" stroke-width="1.2"/>
</g>
<g class="mono"><text x="334" y="987.3" text-anchor="middle">0</text><text x="485.5" y="987.3" text-anchor="middle">125</text><text x="637" y="987.3" text-anchor="middle">250</text></g>
<text class="sans" x="485.8" y="1010.8" font-size="16.6" text-anchor="middle" letter-spacing="0.4">km</text>
</svg>
</body></html>
